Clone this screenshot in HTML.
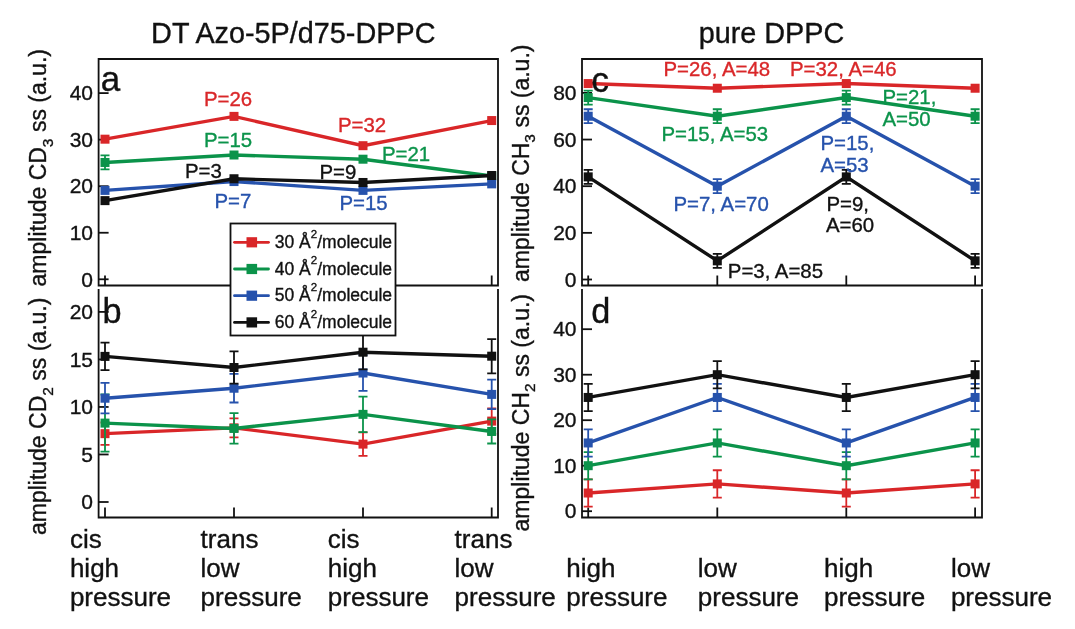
<!DOCTYPE html><html><head><meta charset="utf-8"><style>html,body{margin:0;padding:0;background:#fff;}svg{display:block;will-change:transform;font-family:"Liberation Sans",sans-serif;} text{stroke-width:0.35px;paint-order:stroke;}</style></head><body>
<svg width="1075" height="629" viewBox="0 0 1075 629">
<rect width="1075" height="629" fill="#fff"/>
<text x="293.3" y="43" font-size="28.8" fill="#111111" stroke="#111111" text-anchor="middle" >DT Azo-5P/d75-DPPC</text>
<text x="771.5" y="43" font-size="28.8" fill="#111111" stroke="#111111" text-anchor="middle" >pure DPPC</text>
<text transform="translate(46.3 167.75) rotate(-90)" font-size="23" text-anchor="middle" fill="#111" stroke="#111">amplitude CD<tspan font-size="15.5" dy="6.5">3</tspan><tspan dy="-6.5"> ss (a.u.)</tspan></text>
<text transform="translate(46.3 416.35) rotate(-90)" font-size="23" text-anchor="middle" fill="#111" stroke="#111">amplitude CD<tspan font-size="15.5" dy="6.5">2</tspan><tspan dy="-6.5"> ss (a.u.)</tspan></text>
<text transform="translate(528.8 163.25) rotate(-90)" font-size="23" text-anchor="middle" fill="#111" stroke="#111">amplitude CH<tspan font-size="15.5" dy="6.5">3</tspan><tspan dy="-6.5"> ss (a.u.)</tspan></text>
<text transform="translate(528.8 412.7) rotate(-90)" font-size="23" text-anchor="middle" fill="#111" stroke="#111">amplitude CH<tspan font-size="15.5" dy="6.5">2</tspan><tspan dy="-6.5"> ss (a.u.)</tspan></text>
<path d="M98.6 285.5 V59 H498 V285.5 H98.6Z" fill="none" stroke="#111" stroke-width="1.8"/>
<line x1="98.6" y1="279.3" x2="108.6" y2="279.3" stroke="#111" stroke-width="1.8"/>
<text x="93" y="286.5" font-size="21" text-anchor="end" fill="#111" stroke="#111">0</text>
<line x1="98.6" y1="232.75" x2="108.6" y2="232.75" stroke="#111" stroke-width="1.8"/>
<text x="93" y="239.9" font-size="21" text-anchor="end" fill="#111" stroke="#111">10</text>
<line x1="98.6" y1="186.2" x2="108.6" y2="186.2" stroke="#111" stroke-width="1.8"/>
<text x="93" y="193.4" font-size="21" text-anchor="end" fill="#111" stroke="#111">20</text>
<line x1="98.6" y1="139.65" x2="108.6" y2="139.65" stroke="#111" stroke-width="1.8"/>
<text x="93" y="146.8" font-size="21" text-anchor="end" fill="#111" stroke="#111">30</text>
<line x1="98.6" y1="93.1" x2="108.6" y2="93.1" stroke="#111" stroke-width="1.8"/>
<text x="93" y="100.3" font-size="21" text-anchor="end" fill="#111" stroke="#111">40</text>
<line x1="105" y1="285.5" x2="105" y2="275.5" stroke="#111" stroke-width="1.8"/>
<line x1="234" y1="285.5" x2="234" y2="275.5" stroke="#111" stroke-width="1.8"/>
<line x1="363" y1="285.5" x2="363" y2="275.5" stroke="#111" stroke-width="1.8"/>
<line x1="491.7" y1="285.5" x2="491.7" y2="275.5" stroke="#111" stroke-width="1.8"/>
<polyline points="105,139.18 234,116.38 363,145.70 491.7,120.56" fill="none" stroke="#d92628" stroke-width="3.4" stroke-linejoin="miter"/>
<rect x="100.50" y="134.68" width="9" height="9" fill="#d92628"/>
<rect x="229.50" y="111.88" width="9" height="9" fill="#d92628"/>
<rect x="358.50" y="141.20" width="9" height="9" fill="#d92628"/>
<rect x="487.20" y="116.06" width="9" height="9" fill="#d92628"/>
<polyline points="105,162.46 234,155.01 363,159.20 491.7,175.96" fill="none" stroke="#0b934a" stroke-width="3.4" stroke-linejoin="miter"/>
<path d="M105 155.46V169.46M100.5 155.46H109.5M100.5 169.46H109.5" stroke="#0b934a" stroke-width="1.8" fill="none"/>
<rect x="100.50" y="157.96" width="9" height="9" fill="#0b934a"/>
<rect x="229.50" y="150.51" width="9" height="9" fill="#0b934a"/>
<rect x="358.50" y="154.70" width="9" height="9" fill="#0b934a"/>
<rect x="487.20" y="171.46" width="9" height="9" fill="#0b934a"/>
<polyline points="105,190.39 234,181.55 363,190.39 491.7,183.87" fill="none" stroke="#2652ac" stroke-width="3.4" stroke-linejoin="miter"/>
<rect x="100.50" y="185.89" width="9" height="9" fill="#2652ac"/>
<rect x="229.50" y="177.05" width="9" height="9" fill="#2652ac"/>
<rect x="358.50" y="185.89" width="9" height="9" fill="#2652ac"/>
<rect x="487.20" y="179.37" width="9" height="9" fill="#2652ac"/>
<polyline points="105,200.63 234,178.75 363,182.48 491.7,175.49" fill="none" stroke="#111111" stroke-width="3.4" stroke-linejoin="miter"/>
<rect x="100.50" y="196.13" width="9" height="9" fill="#111111"/>
<rect x="229.50" y="174.25" width="9" height="9" fill="#111111"/>
<rect x="358.50" y="177.98" width="9" height="9" fill="#111111"/>
<rect x="487.20" y="170.99" width="9" height="9" fill="#111111"/>
<text x="204" y="105.5" font-size="20.4" fill="#d92628" stroke="#d92628" text-anchor="start" >P=26</text>
<text x="204" y="147.2" font-size="20.4" fill="#0b934a" stroke="#0b934a" text-anchor="start" >P=15</text>
<text x="185" y="177.7" font-size="20.4" fill="#111111" stroke="#111111" text-anchor="start" >P=3</text>
<text x="214.5" y="207.6" font-size="20.4" fill="#2652ac" stroke="#2652ac" text-anchor="start" >P=7</text>
<text x="338" y="132.1" font-size="20.4" fill="#d92628" stroke="#d92628" text-anchor="start" >P=32</text>
<text x="382" y="160.7" font-size="20.4" fill="#0b934a" stroke="#0b934a" text-anchor="start" >P=21</text>
<text x="319.5" y="179" font-size="20.4" fill="#111111" stroke="#111111" text-anchor="start" >P=9</text>
<text x="339.5" y="210.2" font-size="20.4" fill="#2652ac" stroke="#2652ac" text-anchor="start" >P=15</text>
<path d="M98.6 289 V517.5 H498 V289" fill="none" stroke="#111" stroke-width="1.8"/>
<line x1="98.6" y1="502.0" x2="108.6" y2="502.0" stroke="#111" stroke-width="1.8"/>
<text x="93" y="509.2" font-size="21" text-anchor="end" fill="#111" stroke="#111">0</text>
<line x1="98.6" y1="454.475" x2="108.6" y2="454.475" stroke="#111" stroke-width="1.8"/>
<text x="93" y="461.7" font-size="21" text-anchor="end" fill="#111" stroke="#111">5</text>
<line x1="98.6" y1="406.95" x2="108.6" y2="406.95" stroke="#111" stroke-width="1.8"/>
<text x="93" y="414.1" font-size="21" text-anchor="end" fill="#111" stroke="#111">10</text>
<line x1="98.6" y1="359.42499999999995" x2="108.6" y2="359.42499999999995" stroke="#111" stroke-width="1.8"/>
<text x="93" y="366.6" font-size="21" text-anchor="end" fill="#111" stroke="#111">15</text>
<line x1="98.6" y1="311.9" x2="108.6" y2="311.9" stroke="#111" stroke-width="1.8"/>
<text x="93" y="319.1" font-size="21" text-anchor="end" fill="#111" stroke="#111">20</text>
<line x1="105" y1="517.5" x2="105" y2="507.5" stroke="#111" stroke-width="1.8"/>
<line x1="234" y1="517.5" x2="234" y2="507.5" stroke="#111" stroke-width="1.8"/>
<line x1="363" y1="517.5" x2="363" y2="507.5" stroke="#111" stroke-width="1.8"/>
<line x1="491.7" y1="517.5" x2="491.7" y2="507.5" stroke="#111" stroke-width="1.8"/>
<polyline points="105,433.66 234,427.86 363,444.11 491.7,421.11" fill="none" stroke="#d92628" stroke-width="3.4" stroke-linejoin="miter"/>
<path d="M105 422.51V444.81M100.5 422.51H109.5M100.5 444.81H109.5" stroke="#d92628" stroke-width="1.8" fill="none"/>
<path d="M234 418.33V437.39M229.5 418.33H238.5M229.5 437.39H238.5" stroke="#d92628" stroke-width="1.8" fill="none"/>
<path d="M363 432.30V455.93M358.5 432.30H367.5M358.5 455.93H367.5" stroke="#d92628" stroke-width="1.8" fill="none"/>
<path d="M491.7 408.34V433.88M487.2 408.34H496.2M487.2 433.88H496.2" stroke="#d92628" stroke-width="1.8" fill="none"/>
<rect x="100.50" y="429.16" width="9" height="9" fill="#d92628"/>
<rect x="229.50" y="423.36" width="9" height="9" fill="#d92628"/>
<rect x="358.50" y="439.61" width="9" height="9" fill="#d92628"/>
<rect x="487.20" y="416.61" width="9" height="9" fill="#d92628"/>
<polyline points="105,423.11 234,428.43 363,414.36 491.7,431.47" fill="none" stroke="#0b934a" stroke-width="3.4" stroke-linejoin="miter"/>
<path d="M105 394.52V451.70M100.5 394.52H109.5M100.5 451.70H109.5" stroke="#0b934a" stroke-width="1.8" fill="none"/>
<path d="M234 413.18V443.68M229.5 413.18H238.5M229.5 443.68H238.5" stroke="#0b934a" stroke-width="1.8" fill="none"/>
<path d="M363 396.54V432.19M358.5 396.54H367.5M358.5 432.19H367.5" stroke="#0b934a" stroke-width="1.8" fill="none"/>
<path d="M491.7 419.47V443.48M487.2 419.47H496.2M487.2 443.48H496.2" stroke="#0b934a" stroke-width="1.8" fill="none"/>
<rect x="100.50" y="418.61" width="9" height="9" fill="#0b934a"/>
<rect x="229.50" y="423.93" width="9" height="9" fill="#0b934a"/>
<rect x="358.50" y="409.86" width="9" height="9" fill="#0b934a"/>
<rect x="487.20" y="426.97" width="9" height="9" fill="#0b934a"/>
<polyline points="105,398.21 234,388.23 363,373.02 491.7,394.40" fill="none" stroke="#2652ac" stroke-width="3.4" stroke-linejoin="miter"/>
<path d="M105 382.96V413.45M100.5 382.96H109.5M100.5 413.45H109.5" stroke="#2652ac" stroke-width="1.8" fill="none"/>
<path d="M234 373.93V402.52M229.5 373.93H238.5M229.5 402.52H238.5" stroke="#2652ac" stroke-width="1.8" fill="none"/>
<path d="M363 355.20V390.84M358.5 355.20H367.5M358.5 390.84H367.5" stroke="#2652ac" stroke-width="1.8" fill="none"/>
<path d="M491.7 379.63V409.17M487.2 379.63H496.2M487.2 409.17H496.2" stroke="#2652ac" stroke-width="1.8" fill="none"/>
<rect x="100.50" y="393.71" width="9" height="9" fill="#2652ac"/>
<rect x="229.50" y="383.73" width="9" height="9" fill="#2652ac"/>
<rect x="358.50" y="368.52" width="9" height="9" fill="#2652ac"/>
<rect x="487.20" y="389.90" width="9" height="9" fill="#2652ac"/>
<polyline points="105,356.38 234,367.50 363,352.20 491.7,356.19" fill="none" stroke="#111111" stroke-width="3.4" stroke-linejoin="miter"/>
<path d="M105 342.56V370.20M100.5 342.56H109.5M100.5 370.20H109.5" stroke="#111111" stroke-width="1.8" fill="none"/>
<path d="M234 351.30V383.71M229.5 351.30H238.5M229.5 383.71H238.5" stroke="#111111" stroke-width="1.8" fill="none"/>
<path d="M363 335.05V369.36M358.5 335.05H367.5M358.5 369.36H367.5" stroke="#111111" stroke-width="1.8" fill="none"/>
<path d="M491.7 339.04V373.35M487.2 339.04H496.2M487.2 373.35H496.2" stroke="#111111" stroke-width="1.8" fill="none"/>
<rect x="100.50" y="351.88" width="9" height="9" fill="#111111"/>
<rect x="229.50" y="363.00" width="9" height="9" fill="#111111"/>
<rect x="358.50" y="347.70" width="9" height="9" fill="#111111"/>
<rect x="487.20" y="351.69" width="9" height="9" fill="#111111"/>
<path d="M582 285.5 V59 H982 V285.5 H582Z" fill="none" stroke="#111" stroke-width="1.8"/>
<line x1="582" y1="279.5" x2="592" y2="279.5" stroke="#111" stroke-width="1.8"/>
<text x="576.5" y="286.7" font-size="21" text-anchor="end" fill="#111" stroke="#111">0</text>
<line x1="582" y1="232.85" x2="592" y2="232.85" stroke="#111" stroke-width="1.8"/>
<text x="576.5" y="240.0" font-size="21" text-anchor="end" fill="#111" stroke="#111">20</text>
<line x1="582" y1="186.2" x2="592" y2="186.2" stroke="#111" stroke-width="1.8"/>
<text x="576.5" y="193.4" font-size="21" text-anchor="end" fill="#111" stroke="#111">40</text>
<line x1="582" y1="139.55" x2="592" y2="139.55" stroke="#111" stroke-width="1.8"/>
<text x="576.5" y="146.8" font-size="21" text-anchor="end" fill="#111" stroke="#111">60</text>
<line x1="582" y1="92.9" x2="592" y2="92.9" stroke="#111" stroke-width="1.8"/>
<text x="576.5" y="100.1" font-size="21" text-anchor="end" fill="#111" stroke="#111">80</text>
<line x1="588.2" y1="285.5" x2="588.2" y2="275.5" stroke="#111" stroke-width="1.8"/>
<line x1="717.3" y1="285.5" x2="717.3" y2="275.5" stroke="#111" stroke-width="1.8"/>
<line x1="846.3" y1="285.5" x2="846.3" y2="275.5" stroke="#111" stroke-width="1.8"/>
<line x1="975.1" y1="285.5" x2="975.1" y2="275.5" stroke="#111" stroke-width="1.8"/>
<polyline points="588.2,83.57 717.3,88.23 846.3,83.57 975.1,88.23" fill="none" stroke="#d92628" stroke-width="3.4" stroke-linejoin="miter"/>
<rect x="583.70" y="79.07" width="9" height="9" fill="#d92628"/>
<rect x="712.80" y="83.73" width="9" height="9" fill="#d92628"/>
<rect x="841.80" y="79.07" width="9" height="9" fill="#d92628"/>
<rect x="970.60" y="83.73" width="9" height="9" fill="#d92628"/>
<polyline points="588.2,97.56 717.3,116.22 846.3,97.56 975.1,116.22" fill="none" stroke="#0b934a" stroke-width="3.4" stroke-linejoin="miter"/>
<path d="M588.2 90.57V104.56M583.7 90.57H592.7M583.7 104.56H592.7" stroke="#0b934a" stroke-width="1.8" fill="none"/>
<path d="M717.3 109.23V123.22M712.8 109.23H721.8M712.8 123.22H721.8" stroke="#0b934a" stroke-width="1.8" fill="none"/>
<path d="M846.3 90.57V104.56M841.8 90.57H850.8M841.8 104.56H850.8" stroke="#0b934a" stroke-width="1.8" fill="none"/>
<path d="M975.1 109.23V123.22M970.6 109.23H979.6M970.6 123.22H979.6" stroke="#0b934a" stroke-width="1.8" fill="none"/>
<rect x="583.70" y="93.06" width="9" height="9" fill="#0b934a"/>
<rect x="712.80" y="111.72" width="9" height="9" fill="#0b934a"/>
<rect x="841.80" y="93.06" width="9" height="9" fill="#0b934a"/>
<rect x="970.60" y="111.72" width="9" height="9" fill="#0b934a"/>
<polyline points="588.2,116.22 717.3,186.20 846.3,116.22 975.1,186.20" fill="none" stroke="#2652ac" stroke-width="3.4" stroke-linejoin="miter"/>
<path d="M588.2 109.23V123.22M583.7 109.23H592.7M583.7 123.22H592.7" stroke="#2652ac" stroke-width="1.8" fill="none"/>
<path d="M717.3 179.20V193.20M712.8 179.20H721.8M712.8 193.20H721.8" stroke="#2652ac" stroke-width="1.8" fill="none"/>
<path d="M846.3 109.23V123.22M841.8 109.23H850.8M841.8 123.22H850.8" stroke="#2652ac" stroke-width="1.8" fill="none"/>
<path d="M975.1 179.20V193.20M970.6 179.20H979.6M970.6 193.20H979.6" stroke="#2652ac" stroke-width="1.8" fill="none"/>
<rect x="583.70" y="111.72" width="9" height="9" fill="#2652ac"/>
<rect x="712.80" y="181.70" width="9" height="9" fill="#2652ac"/>
<rect x="841.80" y="111.72" width="9" height="9" fill="#2652ac"/>
<rect x="970.60" y="181.70" width="9" height="9" fill="#2652ac"/>
<polyline points="588.2,176.87 717.3,260.84 846.3,176.87 975.1,260.84" fill="none" stroke="#111111" stroke-width="3.4" stroke-linejoin="miter"/>
<path d="M588.2 169.87V183.87M583.7 169.87H592.7M583.7 183.87H592.7" stroke="#111111" stroke-width="1.8" fill="none"/>
<path d="M717.3 253.84V267.84M712.8 253.84H721.8M712.8 267.84H721.8" stroke="#111111" stroke-width="1.8" fill="none"/>
<path d="M846.3 169.87V183.87M841.8 169.87H850.8M841.8 183.87H850.8" stroke="#111111" stroke-width="1.8" fill="none"/>
<path d="M975.1 253.84V267.84M970.6 253.84H979.6M970.6 267.84H979.6" stroke="#111111" stroke-width="1.8" fill="none"/>
<rect x="583.70" y="172.37" width="9" height="9" fill="#111111"/>
<rect x="712.80" y="256.34" width="9" height="9" fill="#111111"/>
<rect x="841.80" y="172.37" width="9" height="9" fill="#111111"/>
<rect x="970.60" y="256.34" width="9" height="9" fill="#111111"/>
<text x="663.5" y="75.8" font-size="20.4" fill="#d92628" stroke="#d92628" text-anchor="start" >P=26, A=48</text>
<text x="790" y="75.8" font-size="20.4" fill="#d92628" stroke="#d92628" text-anchor="start" >P=32, A=46</text>
<text x="882.5" y="104.1" font-size="20.4" fill="#0b934a" stroke="#0b934a" text-anchor="start" >P=21,</text>
<text x="882.5" y="125.8" font-size="20.4" fill="#0b934a" stroke="#0b934a" text-anchor="start" >A=50</text>
<text x="661.5" y="140.8" font-size="20.4" fill="#0b934a" stroke="#0b934a" text-anchor="start" >P=15, A=53</text>
<text x="673.5" y="210.8" font-size="20.4" fill="#2652ac" stroke="#2652ac" text-anchor="start" >P=7, A=70</text>
<text x="820.5" y="149.8" font-size="20.4" fill="#2652ac" stroke="#2652ac" text-anchor="start" >P=15,</text>
<text x="820.5" y="172" font-size="20.4" fill="#2652ac" stroke="#2652ac" text-anchor="start" >A=53</text>
<text x="826.5" y="210.8" font-size="20.4" fill="#111111" stroke="#111111" text-anchor="start" >P=9,</text>
<text x="826" y="231.6" font-size="20.4" fill="#111111" stroke="#111111" text-anchor="start" >A=60</text>
<text x="727.8" y="278.1" font-size="20.4" fill="#111111" stroke="#111111" text-anchor="start" >P=3, A=85</text>
<path d="M582 289 V517.5 H982 V289" fill="none" stroke="#111" stroke-width="1.8"/>
<line x1="582" y1="511.2" x2="592" y2="511.2" stroke="#111" stroke-width="1.8"/>
<text x="576.5" y="518.4" font-size="21" text-anchor="end" fill="#111" stroke="#111">0</text>
<line x1="582" y1="465.7" x2="592" y2="465.7" stroke="#111" stroke-width="1.8"/>
<text x="576.5" y="472.9" font-size="21" text-anchor="end" fill="#111" stroke="#111">10</text>
<line x1="582" y1="420.2" x2="592" y2="420.2" stroke="#111" stroke-width="1.8"/>
<text x="576.5" y="427.4" font-size="21" text-anchor="end" fill="#111" stroke="#111">20</text>
<line x1="582" y1="374.7" x2="592" y2="374.7" stroke="#111" stroke-width="1.8"/>
<text x="576.5" y="381.9" font-size="21" text-anchor="end" fill="#111" stroke="#111">30</text>
<line x1="582" y1="329.2" x2="592" y2="329.2" stroke="#111" stroke-width="1.8"/>
<text x="576.5" y="336.4" font-size="21" text-anchor="end" fill="#111" stroke="#111">40</text>
<line x1="588.2" y1="517.5" x2="588.2" y2="507.5" stroke="#111" stroke-width="1.8"/>
<line x1="717.3" y1="517.5" x2="717.3" y2="507.5" stroke="#111" stroke-width="1.8"/>
<line x1="846.3" y1="517.5" x2="846.3" y2="507.5" stroke="#111" stroke-width="1.8"/>
<line x1="975.1" y1="517.5" x2="975.1" y2="507.5" stroke="#111" stroke-width="1.8"/>
<polyline points="588.2,493.00 717.3,483.90 846.3,493.00 975.1,483.90" fill="none" stroke="#d92628" stroke-width="3.4" stroke-linejoin="miter"/>
<path d="M588.2 479.35V506.65M583.7 479.35H592.7M583.7 506.65H592.7" stroke="#d92628" stroke-width="1.8" fill="none"/>
<path d="M717.3 470.25V497.55M712.8 470.25H721.8M712.8 497.55H721.8" stroke="#d92628" stroke-width="1.8" fill="none"/>
<path d="M846.3 479.35V506.65M841.8 479.35H850.8M841.8 506.65H850.8" stroke="#d92628" stroke-width="1.8" fill="none"/>
<path d="M975.1 470.25V497.55M970.6 470.25H979.6M970.6 497.55H979.6" stroke="#d92628" stroke-width="1.8" fill="none"/>
<rect x="583.70" y="488.50" width="9" height="9" fill="#d92628"/>
<rect x="712.80" y="479.40" width="9" height="9" fill="#d92628"/>
<rect x="841.80" y="488.50" width="9" height="9" fill="#d92628"/>
<rect x="970.60" y="479.40" width="9" height="9" fill="#d92628"/>
<polyline points="588.2,465.70 717.3,442.95 846.3,465.70 975.1,442.95" fill="none" stroke="#0b934a" stroke-width="3.4" stroke-linejoin="miter"/>
<path d="M588.2 452.05V479.35M583.7 452.05H592.7M583.7 479.35H592.7" stroke="#0b934a" stroke-width="1.8" fill="none"/>
<path d="M717.3 429.30V456.60M712.8 429.30H721.8M712.8 456.60H721.8" stroke="#0b934a" stroke-width="1.8" fill="none"/>
<path d="M846.3 452.05V479.35M841.8 452.05H850.8M841.8 479.35H850.8" stroke="#0b934a" stroke-width="1.8" fill="none"/>
<path d="M975.1 429.30V456.60M970.6 429.30H979.6M970.6 456.60H979.6" stroke="#0b934a" stroke-width="1.8" fill="none"/>
<rect x="583.70" y="461.20" width="9" height="9" fill="#0b934a"/>
<rect x="712.80" y="438.45" width="9" height="9" fill="#0b934a"/>
<rect x="841.80" y="461.20" width="9" height="9" fill="#0b934a"/>
<rect x="970.60" y="438.45" width="9" height="9" fill="#0b934a"/>
<polyline points="588.2,442.95 717.3,397.45 846.3,442.95 975.1,397.45" fill="none" stroke="#2652ac" stroke-width="3.4" stroke-linejoin="miter"/>
<path d="M588.2 429.30V456.60M583.7 429.30H592.7M583.7 456.60H592.7" stroke="#2652ac" stroke-width="1.8" fill="none"/>
<path d="M717.3 383.80V411.10M712.8 383.80H721.8M712.8 411.10H721.8" stroke="#2652ac" stroke-width="1.8" fill="none"/>
<path d="M846.3 429.30V456.60M841.8 429.30H850.8M841.8 456.60H850.8" stroke="#2652ac" stroke-width="1.8" fill="none"/>
<path d="M975.1 383.80V411.10M970.6 383.80H979.6M970.6 411.10H979.6" stroke="#2652ac" stroke-width="1.8" fill="none"/>
<rect x="583.70" y="438.45" width="9" height="9" fill="#2652ac"/>
<rect x="712.80" y="392.95" width="9" height="9" fill="#2652ac"/>
<rect x="841.80" y="438.45" width="9" height="9" fill="#2652ac"/>
<rect x="970.60" y="392.95" width="9" height="9" fill="#2652ac"/>
<polyline points="588.2,397.45 717.3,374.70 846.3,397.45 975.1,374.70" fill="none" stroke="#111111" stroke-width="3.4" stroke-linejoin="miter"/>
<path d="M588.2 383.80V411.10M583.7 383.80H592.7M583.7 411.10H592.7" stroke="#111111" stroke-width="1.8" fill="none"/>
<path d="M717.3 361.05V388.35M712.8 361.05H721.8M712.8 388.35H721.8" stroke="#111111" stroke-width="1.8" fill="none"/>
<path d="M846.3 383.80V411.10M841.8 383.80H850.8M841.8 411.10H850.8" stroke="#111111" stroke-width="1.8" fill="none"/>
<path d="M975.1 361.05V388.35M970.6 361.05H979.6M970.6 388.35H979.6" stroke="#111111" stroke-width="1.8" fill="none"/>
<rect x="583.70" y="392.95" width="9" height="9" fill="#111111"/>
<rect x="712.80" y="370.20" width="9" height="9" fill="#111111"/>
<rect x="841.80" y="392.95" width="9" height="9" fill="#111111"/>
<rect x="970.60" y="370.20" width="9" height="9" fill="#111111"/>
<text x="100.8" y="91.2" font-size="35" fill="#111111" stroke="#111111" text-anchor="start" >a</text>
<text x="102.6" y="322.9" font-size="34.3" fill="#111111" stroke="#111111" text-anchor="start" >b</text>
<text x="591.3" y="91.6" font-size="35.5" fill="#111111" stroke="#111111" text-anchor="start" >c</text>
<text x="591.2" y="323.1" font-size="34.3" fill="#111111" stroke="#111111" text-anchor="start" >d</text>
<rect x="230.5" y="223.5" width="165" height="112" fill="#fff" stroke="#111" stroke-width="1.8"/>
<line x1="234.5" y1="242.3" x2="268.5" y2="242.3" stroke="#d92628" stroke-width="2.8" stroke-linecap="round"/>
<rect x="246.5" y="237.2" width="10.6" height="10.2" fill="#d92628"/>
<text x="274.8" y="247.8" font-size="17.5" fill="#111" stroke="#111">30 Å<tspan font-size="11.5" dy="-10.3">2</tspan><tspan dy="10.3">/molecule</tspan></text>
<line x1="234.5" y1="269.0" x2="268.5" y2="269.0" stroke="#0b934a" stroke-width="2.8" stroke-linecap="round"/>
<rect x="246.5" y="263.9" width="10.6" height="10.2" fill="#0b934a"/>
<text x="274.8" y="274.5" font-size="17.5" fill="#111" stroke="#111">40 Å<tspan font-size="11.5" dy="-10.3">2</tspan><tspan dy="10.3">/molecule</tspan></text>
<line x1="234.5" y1="295.7" x2="268.5" y2="295.7" stroke="#2652ac" stroke-width="2.8" stroke-linecap="round"/>
<rect x="246.5" y="290.6" width="10.6" height="10.2" fill="#2652ac"/>
<text x="274.8" y="301.2" font-size="17.5" fill="#111" stroke="#111">50 Å<tspan font-size="11.5" dy="-10.3">2</tspan><tspan dy="10.3">/molecule</tspan></text>
<line x1="234.5" y1="322.4" x2="268.5" y2="322.4" stroke="#111111" stroke-width="2.8" stroke-linecap="round"/>
<rect x="246.5" y="317.3" width="10.6" height="10.2" fill="#111111"/>
<text x="274.8" y="327.9" font-size="17.5" fill="#111" stroke="#111">60 Å<tspan font-size="11.5" dy="-10.3">2</tspan><tspan dy="10.3">/molecule</tspan></text>
<text x="69.9" y="547.8" font-size="26" fill="#111111" stroke="#111111" text-anchor="start" >cis</text>
<text x="69.9" y="577.0" font-size="26" fill="#111111" stroke="#111111" text-anchor="start" >high</text>
<text x="69.9" y="606.1999999999999" font-size="26" fill="#111111" stroke="#111111" text-anchor="start" >pressure</text>
<text x="200.6" y="547.8" font-size="26" fill="#111111" stroke="#111111" text-anchor="start" >trans</text>
<text x="200.6" y="577.0" font-size="26" fill="#111111" stroke="#111111" text-anchor="start" >low</text>
<text x="200.6" y="606.1999999999999" font-size="26" fill="#111111" stroke="#111111" text-anchor="start" >pressure</text>
<text x="327.8" y="547.8" font-size="26" fill="#111111" stroke="#111111" text-anchor="start" >cis</text>
<text x="327.8" y="577.0" font-size="26" fill="#111111" stroke="#111111" text-anchor="start" >high</text>
<text x="327.8" y="606.1999999999999" font-size="26" fill="#111111" stroke="#111111" text-anchor="start" >pressure</text>
<text x="454.6" y="547.8" font-size="26" fill="#111111" stroke="#111111" text-anchor="start" >trans</text>
<text x="454.6" y="577.0" font-size="26" fill="#111111" stroke="#111111" text-anchor="start" >low</text>
<text x="454.6" y="606.1999999999999" font-size="26" fill="#111111" stroke="#111111" text-anchor="start" >pressure</text>
<text x="566.3" y="576.5" font-size="26" fill="#111111" stroke="#111111" text-anchor="start" >high</text>
<text x="566.3" y="605.7" font-size="26" fill="#111111" stroke="#111111" text-anchor="start" >pressure</text>
<text x="697.8" y="576.5" font-size="26" fill="#111111" stroke="#111111" text-anchor="start" >low</text>
<text x="697.8" y="605.7" font-size="26" fill="#111111" stroke="#111111" text-anchor="start" >pressure</text>
<text x="824" y="576.5" font-size="26" fill="#111111" stroke="#111111" text-anchor="start" >high</text>
<text x="824" y="605.7" font-size="26" fill="#111111" stroke="#111111" text-anchor="start" >pressure</text>
<text x="950.9" y="576.5" font-size="26" fill="#111111" stroke="#111111" text-anchor="start" >low</text>
<text x="950.9" y="605.7" font-size="26" fill="#111111" stroke="#111111" text-anchor="start" >pressure</text>
</svg></body></html>
